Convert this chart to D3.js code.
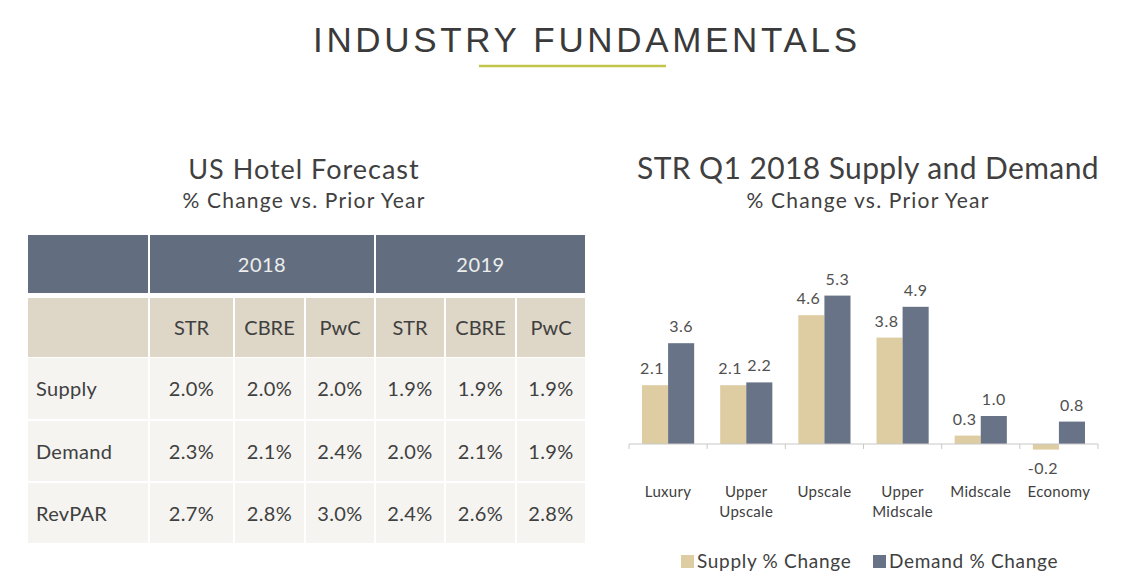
<!DOCTYPE html>
<html>
<head>
<meta charset="utf-8">
<script src="https://cdn.jsdelivr.net/npm/d3@7"></script>
<style>
  html, body { margin: 0; padding: 0; background: #ffffff; }
  svg { display: block; }
</style>
</head>
<body>
<svg id="chart" width="1136" height="587"></svg>
<script>
// ---------- data ----------
const years = ["2018", "2019"];
const sources = ["STR", "CBRE", "PwC"];
const metrics = ["Supply", "Demand", "RevPAR"];
const supplyForecast = [2.0, 2.0, 2.0, 1.9, 1.9, 1.9];
const demandForecast = [2.3, 2.1, 2.4, 2.0, 2.1, 1.9];
const revparForecast = [2.7, 2.8, 3.0, 2.4, 2.6, 2.8];

const categories = [["Luxury"], ["Upper", "Upscale"], ["Upscale"], ["Upper", "Midscale"], ["Midscale"], ["Economy"]];
const supplyChange = [2.1, 2.1, 4.6, 3.8, 0.3, -0.2];
const demandChange = [3.6, 2.2, 5.3, 4.9, 1.0, 0.8];
const seriesNames = ["Supply % Change", "Demand % Change"];

// ---------- style ----------
const FONT = "Lato, 'Open Sans', sans-serif";
const TEXT = "#404040";
const C_DARK = "#626e80";
const C_BEIGE = "#ded6c6";
const C_ROW = "#f5f4f1";
const C_SUPPLY = "#decda3";
const C_DEMAND = "#687388";

const svg = d3.select("#chart");
svg.append("rect").attr("width", 1136).attr("height", 587).attr("fill", "#fff");

// ---------- page title ----------
svg.append("text")
  .attr("x", 585).attr("y", 52)
  .attr("text-anchor", "middle")
  .attr("font-family", "'Liberation Sans', Arial, sans-serif")
  .attr("font-size", 35)
  .attr("fill", "#3a3a3a")
  .attr("textLength", 544)
  .attr("lengthAdjust", "spacing")
  .text("INDUSTRY FUNDAMENTALS");
svg.append("line")
  .attr("x1", 479).attr("x2", 666).attr("y1", 66).attr("y2", 66)
  .attr("stroke", "#c3c54a").attr("stroke-width", 2.5);

// ---------- table ----------
const tbl = svg.append("g");
tbl.append("text").attr("x", 304).attr("y", 179).attr("text-anchor", "middle")
  .attr("font-family", FONT).attr("font-size", 27).attr("letter-spacing", 1).attr("fill", TEXT).text("US Hotel Forecast");
tbl.append("text").attr("x", 304).attr("y", 208).attr("text-anchor", "middle")
  .attr("font-family", FONT).attr("font-size", 21).attr("letter-spacing", 1.2).attr("fill", TEXT).text("% Change vs. Prior Year");

const colEdges = [[28, 148], [150, 233], [235, 304], [306, 374], [376, 444], [446, 515], [517, 585]];
const headerRow = [235, 293];
const subRow = [298, 357];
const dataRows = [[358, 419], [421, 481], [483, 543]];

// header row
tbl.append("rect").attr("x", colEdges[0][0]).attr("y", headerRow[0])
  .attr("width", colEdges[0][1] - colEdges[0][0]).attr("height", headerRow[1] - headerRow[0]).attr("fill", C_DARK);
years.forEach((yr, i) => {
  const x0 = colEdges[1 + i * 3][0], x1 = colEdges[3 + i * 3][1];
  tbl.append("rect").attr("x", x0).attr("y", headerRow[0]).attr("width", x1 - x0)
    .attr("height", headerRow[1] - headerRow[0]).attr("fill", C_DARK);
  tbl.append("text").attr("x", (x0 + x1) / 2).attr("y", 271.5).attr("text-anchor", "middle")
    .attr("font-family", FONT).attr("font-size", 20).attr("letter-spacing", 0.5).attr("fill", "#eeeeee").text(yr);
});

// sub header row
colEdges.forEach((c, i) => {
  tbl.append("rect").attr("x", c[0]).attr("y", subRow[0]).attr("width", c[1] - c[0])
    .attr("height", subRow[1] - subRow[0]).attr("fill", C_BEIGE);
  if (i > 0) {
    tbl.append("text").attr("x", (c[0] + c[1]) / 2).attr("y", 334.5).attr("text-anchor", "middle")
      .attr("font-family", FONT).attr("font-size", 20).attr("fill", TEXT).text(sources[(i - 1) % 3]);
  }
});

// data rows
const tableValues = [supplyForecast, demandForecast, revparForecast];
const fmt = v => d3.format(".1f")(v).replace("\u2212", "-");
dataRows.forEach((r, ri) => {
  colEdges.forEach((c, ci) => {
    tbl.append("rect").attr("x", c[0]).attr("y", r[0]).attr("width", c[1] - c[0])
      .attr("height", r[1] - r[0]).attr("fill", C_ROW);
  });
  const ty = (r[0] + r[1]) / 2 + 7.5;
  tbl.append("text").attr("x", 36).attr("y", ty)
    .attr("font-family", FONT).attr("font-size", 20).attr("letter-spacing", 0.3).attr("fill", TEXT).text(metrics[ri]);
  tableValues[ri].forEach((v, vi) => {
    const c = colEdges[vi + 1];
    tbl.append("text").attr("x", (c[0] + c[1]) / 2).attr("y", ty).attr("text-anchor", "middle")
      .attr("font-family", FONT).attr("font-size", 20).attr("letter-spacing", 0.4).attr("fill", TEXT).text(fmt(v) + "%");
  });
});

// ---------- bar chart ----------
const ch = svg.append("g");
ch.append("text").attr("x", 868).attr("y", 179).attr("text-anchor", "middle")
  .attr("font-family", FONT).attr("font-size", 30).attr("letter-spacing", 0.4).attr("fill", TEXT).text("STR Q1 2018 Supply and Demand");
ch.append("text").attr("x", 868).attr("y", 208).attr("text-anchor", "middle")
  .attr("font-family", FONT).attr("font-size", 21).attr("letter-spacing", 1.2).attr("fill", TEXT).text("% Change vs. Prior Year");

const catKeys = categories.map(c => c.join(" "));
const x = d3.scaleBand().domain(catKeys).range([629, 1098]).padding(0);
const x1 = d3.scaleBand().domain(["supply", "demand"]).range([13, x.bandwidth() - 13]).padding(0);
const y = d3.scaleLinear().domain([-0.5, 6]).range([458, 276]);

const barData = [];
catKeys.forEach((k, i) => {
  barData.push({ cat: k, key: "supply", v: supplyChange[i] });
  barData.push({ cat: k, key: "demand", v: demandChange[i] });
});

ch.selectAll("rect.bar").data(barData).enter().append("rect")
  .attr("class", "bar")
  .attr("x", d => x(d.cat) + x1(d.key))
  .attr("width", x1.bandwidth())
  .attr("y", d => y(Math.max(0, d.v)))
  .attr("height", d => Math.abs(y(d.v) - y(0)))
  .attr("fill", d => d.key === "supply" ? C_SUPPLY : C_DEMAND);

// axis
const y0 = y(0);
ch.append("line").attr("x1", x.range()[0]).attr("x2", x.range()[1]).attr("y1", y0).attr("y2", y0)
  .attr("stroke", "#c8c8c8").attr("stroke-width", 1);
const tickXs = catKeys.map(k => x(k)).concat([x.range()[1]]);
ch.selectAll("line.tick").data(tickXs).enter().append("line")
  .attr("x1", d => d).attr("x2", d => d).attr("y1", y0).attr("y2", y0 + 5)
  .attr("stroke", "#c8c8c8").attr("stroke-width", 1);

// value labels
ch.selectAll("text.val").data(barData).enter().append("text")
  .attr("x", d => x(d.cat) + x1(d.key) + x1.bandwidth() / 2 + (d.key === "supply" ? -3 : 0))
  .attr("y", d => d.v >= 0 ? y(d.v) - 11 : y(d.v) + 24)
  .attr("text-anchor", "middle")
  .attr("font-family", FONT).attr("font-size", 16).attr("letter-spacing", 0.5).attr("fill", "#505050")
  .text(d => fmt(d.v));

// category labels
categories.forEach((lines, i) => {
  const t = ch.append("text").attr("text-anchor", "middle")
    .attr("font-family", FONT).attr("font-size", 15).attr("letter-spacing", 0.3).attr("fill", TEXT);
  lines.forEach((ln, li) => {
    t.append("tspan").attr("x", x(catKeys[i]) + x.bandwidth() / 2).attr("y", 497 + li * 20).text(ln);
  });
});

// legend
const legend = ch.append("g");
const legX = [681, 873];
seriesNames.forEach((n, i) => {
  legend.append("rect").attr("x", legX[i]).attr("y", 555).attr("width", 13).attr("height", 13)
    .attr("fill", i === 0 ? C_SUPPLY : C_DEMAND);
  legend.append("text").attr("x", legX[i] + 16).attr("y", 568)
    .attr("font-family", FONT).attr("font-size", 19).attr("letter-spacing", 0.7).attr("fill", TEXT).text(n);
});
</script>
</body>
</html>
